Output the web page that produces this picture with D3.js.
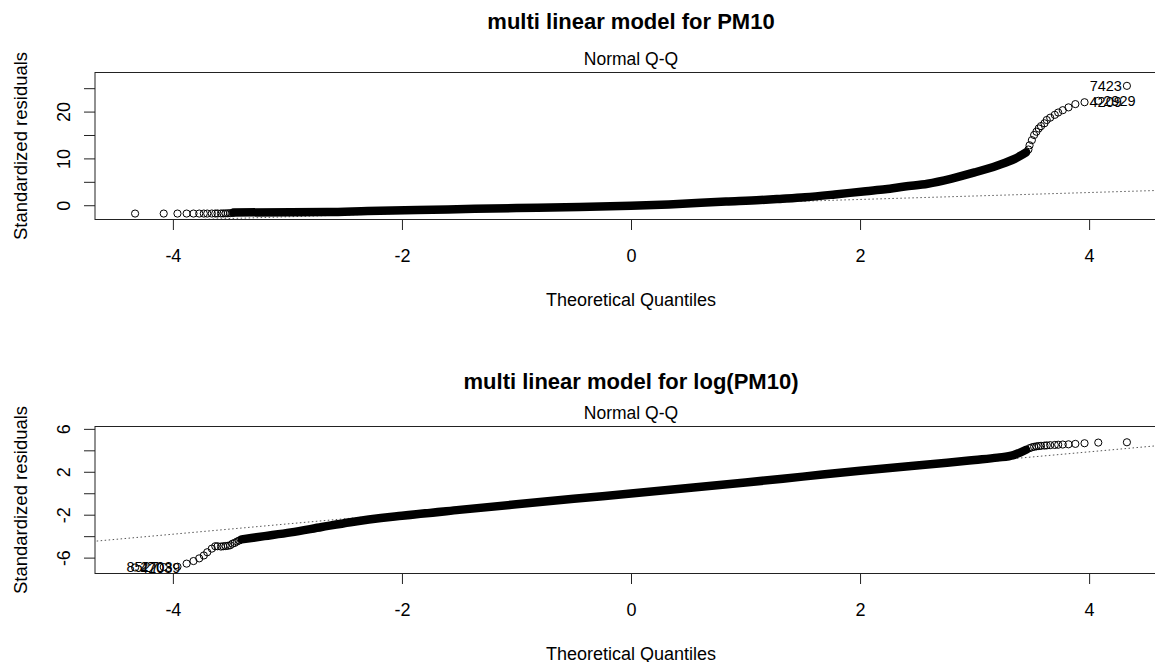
<!DOCTYPE html>
<html>
<head>
<meta charset="utf-8">
<script src="https://cdn.jsdelivr.net/npm/d3@7"></script>
<style>
  body { margin: 0; background: #fff; }
  text { font-family: "Liberation Sans", Arial, sans-serif; fill: #000; }
</style>
</head>
<body>
<div class="d3-container"></div>
<script>
// axis ticks
const xTicks = [-4, -2, 0, 2, 4];
const pm10YTicks = [0, 5, 10, 15, 20, 25];
const pm10YLabels = [0, 10, 20];
const logYTicks = [-6, -4, -2, 0, 2, 4, 6];
const logYLabels = [-6, -2, 2, 6];

// model for PM10: lower tail, dense middle, upper tail
const pm10LowQ = [-4.33, -4.08, -3.96, -3.88, -3.82, -3.77, -3.73, -3.70, -3.66, -3.63, -3.61, -3.58, -3.56, -3.54, -3.52, -3.50, -3.48];
const pm10LowR = [-1.78, -1.78, -1.78, -1.78, -1.78, -1.78, -1.78, -1.78, -1.77, -1.77, -1.76, -1.76, -1.75, -1.74, -1.72, -1.70, -1.66];
const pm10BandQ = [-3.47, -2.65, -2.3, -1.6, -1.0, -0.45, 0, 0.33, 0.61, 0.83, 1.13, 1.3, 1.52, 1.78, 2.05, 2.22, 2.39, 2.59, 2.8, 3.0, 3.2, 3.35, 3.45];
const pm10BandR = [-1.55, -1.45, -1.22, -0.89, -0.6, -0.36, -0.1, 0.18, 0.53, 0.78, 1.1, 1.35, 1.7, 2.3, 3.0, 3.4, 4.0, 4.6, 5.7, 7.0, 8.5, 9.9, 11.3];
const pm10HighQ = [3.47, 3.48, 3.50, 3.52, 3.54, 3.56, 3.58, 3.61, 3.63, 3.66, 3.70, 3.73, 3.77, 3.82, 3.88, 3.96, 4.08, 4.33];
const pm10HighR = [11.9, 12.8, 13.9, 15.0, 15.7, 16.4, 16.9, 17.5, 18.2, 18.7, 19.3, 19.8, 20.3, 20.9, 21.6, 22.0, 22.3, 25.5];
const pm10IdQ = [4.33, 4.08, 3.96];
const pm10IdR = [25.5, 22.3, 22.0];
const pm10Ids = ["7423", "2929", "4209"];
const pm10LineQ = [-4.7, 4.7];
const pm10LineR = [-3.73, 3.23];

// model for log(PM10)
const logLowQ = [-4.33, -4.08, -3.96, -3.88, -3.82, -3.77, -3.73, -3.70, -3.66, -3.63, -3.61, -3.58, -3.56, -3.54, -3.52, -3.50, -3.48, -3.46, -3.44, -3.42];
const logLowR = [-6.92, -6.88, -6.85, -6.56, -6.32, -6.07, -5.8, -5.5, -5.16, -4.94, -4.94, -4.97, -4.94, -4.92, -4.9, -4.85, -4.7, -4.63, -4.5, -4.4];
const logBandQ = [-3.40, -3.2, -2.97, -2.7, -2.45, -2.0, -1.5, -1.0, -0.5, 0, 0.5, 1.0, 1.5, 2.0, 2.4, 2.76, 3.0, 3.2, 3.34, 3.45];
const logBandR = [-4.3, -4.0, -3.65, -3.15, -2.7, -2.1, -1.55, -1.03, -0.52, -0.03, 0.48, 1.0, 1.55, 2.1, 2.5, 2.84, 3.1, 3.32, 3.55, 4.05];
const logHighQ = [3.48, 3.50, 3.52, 3.54, 3.56, 3.58, 3.61, 3.63, 3.66, 3.70, 3.73, 3.77, 3.82, 3.88, 3.96, 4.08, 4.33];
const logHighR = [4.2, 4.28, 4.33, 4.37, 4.4, 4.42, 4.44, 4.46, 4.48, 4.5, 4.52, 4.54, 4.56, 4.6, 4.66, 4.72, 4.75];
const logIdQ = [-4.33, -4.08, -3.96];
const logIdR = [-6.92, -6.88, -6.85];
const logIds = ["42039", "8527", "2703"];
const logLineQ = [-4.7, 4.7];
const logLineR = [-4.49, 4.53];

const width = 1155;
const height = 662;
const margin = {left: 95, right: -12};

const svg = d3.select(".d3-container")
  .append("svg")
  .attr("width", width)
  .attr("height", height)
  .attr("viewBox", [0, 0, width, height]);

const x = d3.scaleLinear()
  .domain([-4.68, 4.68])
  .range([margin.left, width - margin.right]);

function drawPanel(p) {
  const y = d3.scaleLinear().domain(p.yDomain).range([p.bottom, p.top]);
  const g = svg.append("g");

  g.append("clipPath").attr("id", p.id)
    .append("rect")
    .attr("x", x.range()[0]).attr("y", p.top)
    .attr("width", x.range()[1] - x.range()[0]).attr("height", p.bottom - p.top);

  // qq line, dotted
  g.append("path")
    .datum(d3.zip(p.lineQ, p.lineR))
    .attr("clip-path", `url(#${p.id})`)
    .attr("fill", "none")
    .attr("stroke", "#555")
    .attr("stroke-width", 1)
    .attr("stroke-dasharray", "1.5 2.5")
    .attr("d", d3.line().x(d => x(d[0])).y(d => y(d[1])));

  // the dense middle of the sample is a solid run of overlapping circles
  g.append("path")
    .datum(d3.zip(p.bandQ, p.bandR))
    .attr("fill", "none")
    .attr("stroke", "#000")
    .attr("stroke-width", 8.5)
    .attr("stroke-linecap", "round")
    .attr("stroke-linejoin", "round")
    .attr("d", d3.line().curve(d3.curveMonotoneX).x(d => x(d[0])).y(d => y(d[1])));

  const pts = d3.zip(p.lowQ, p.lowR).concat(d3.zip(p.highQ, p.highR));
  g.append("g")
    .attr("fill", "none")
    .attr("stroke", "#000")
    .attr("stroke-width", 1)
    .selectAll("circle")
    .data(pts)
    .join("circle")
    .attr("cx", d => x(d[0]))
    .attr("cy", d => y(d[1]))
    .attr("r", 3.6);

  // id labels, left of the point when it is right of the middle of the labelled range
  const mid = d3.mean(d3.extent(p.idQ));
  g.append("g")
    .selectAll("text")
    .data(d3.zip(p.idQ, p.idR, p.ids))
    .join("text")
    .attr("x", d => d[0] > mid ? x(d[0]) - 5 : x(d[0]) + 5)
    .attr("y", d => y(d[1]))
    .attr("dy", "0.36em")
    .attr("text-anchor", d => d[0] > mid ? "end" : "start")
    .style("font-size", "14.5px")
    .text(d => d[2]);

  // box
  g.append("rect")
    .attr("x", x.range()[0]).attr("y", p.top)
    .attr("width", x.range()[1] - x.range()[0]).attr("height", p.bottom - p.top)
    .attr("fill", "none")
    .attr("stroke", "#222");

  // x axis
  const xa = g.append("g")
    .attr("transform", `translate(0, ${p.bottom})`)
    .call(d3.axisBottom(x).tickValues(xTicks).tickSize(10.5).tickFormat(d3.format("d")));
  xa.select(".domain").remove();
  xa.selectAll("line").attr("stroke", "#222");
  xa.selectAll("text")
    .attr("y", 42.7).attr("dy", null)
    .style("font-size", "18px")
    .attr("fill", "#000")
    .text(d => d < 0 ? "-" + Math.abs(d) : d);

  // y axis, labels parallel to the axis
  const ya = g.append("g")
    .attr("transform", `translate(${x.range()[0]}, 0)`)
    .call(d3.axisLeft(y).tickValues(p.yTicks).tickSize(11)
      .tickFormat(d => p.yLabels.includes(d) ? (d < 0 ? "-" + Math.abs(d) : d) : ""));
  ya.select(".domain").remove();
  ya.selectAll("line").attr("stroke", "#222");
  ya.selectAll("text")
    .attr("transform", "rotate(-90)")
    .attr("x", 0).attr("y", -25).attr("dy", null)
    .attr("text-anchor", "middle")
    .attr("fill", "#000")
    .style("font-size", "18px");

  // titles
  const cx = (x(-4.68) + x(4.68)) / 2;
  g.append("text")
    .attr("x", cx).attr("y", p.titleY)
    .attr("text-anchor", "middle")
    .style("font-size", "22px").style("font-weight", "bold")
    .text(p.title);
  g.append("text")
    .attr("x", cx).attr("y", p.top - 7.5)
    .attr("text-anchor", "middle")
    .style("font-size", "17.5px")
    .text("Normal Q-Q");
  g.append("text")
    .attr("x", cx).attr("y", p.bottom + 86)
    .attr("text-anchor", "middle")
    .style("font-size", "18px")
    .text("Theoretical Quantiles");
  g.append("text")
    .attr("transform", `translate(27, ${(p.top + p.bottom) / 2}) rotate(-90)`)
    .attr("text-anchor", "middle")
    .style("font-size", "18.5px")
    .text("Standardized residuals");
}

drawPanel({
  id: "clipTop", top: 72.5, bottom: 219.5, yDomain: [-3.05, 28.35], titleY: 29,
  yTicks: pm10YTicks, yLabels: pm10YLabels, title: "multi linear model for PM10",
  lowQ: pm10LowQ, lowR: pm10LowR, bandQ: pm10BandQ, bandR: pm10BandR,
  highQ: pm10HighQ, highR: pm10HighR, idQ: pm10IdQ, idR: pm10IdR, ids: pm10Ids,
  lineQ: pm10LineQ, lineR: pm10LineR
});

drawPanel({
  id: "clipBottom", top: 426.5, bottom: 573.5, yDomain: [-7.48, 6.22], titleY: 389,
  yTicks: logYTicks, yLabels: logYLabels, title: "multi linear model for log(PM10)",
  lowQ: logLowQ, lowR: logLowR, bandQ: logBandQ, bandR: logBandR,
  highQ: logHighQ, highR: logHighR, idQ: logIdQ, idR: logIdR, ids: logIds,
  lineQ: logLineQ, lineR: logLineR
});
</script>
</body>
</html>
